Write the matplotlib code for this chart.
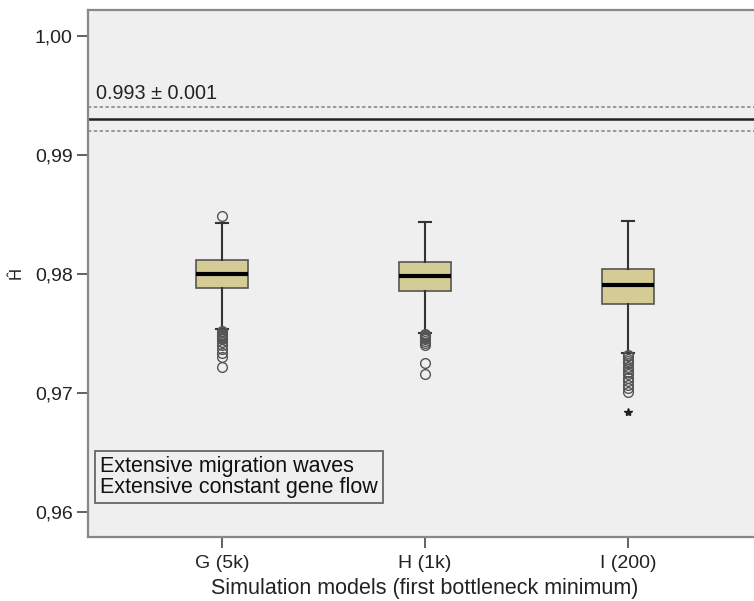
import matplotlib
matplotlib.use("Agg")
import matplotlib.pyplot as plt

plt.rcParams['font.family'] = ['Liberation Sans', 'DejaVu Sans']

# data
models = ["G (5k)", "H (1k)", "I (200)"]
medians = [0.9800, 0.97986, 0.97905]
q1 = [0.97880, 0.97857, 0.97748]
q3 = [0.98118, 0.98101, 0.98045]
whisk_lo = [0.97538, 0.97507, 0.97333]
whisk_hi = [0.98431, 0.98434, 0.98448]
outliers = [
    [0.98490, 0.9752, 0.9751, 0.9750, 0.9749, 0.9748, 0.9747, 0.9746, 0.9745,
     0.9743, 0.9740, 0.9737, 0.9734, 0.9730, 0.9722],
    [0.9750, 0.9749, 0.9748, 0.9747, 0.9746, 0.9745, 0.9744, 0.9742, 0.9740,
     0.9725, 0.9716],
    [0.9732, 0.9731, 0.9729, 0.9727, 0.9725, 0.9722, 0.9720, 0.9718, 0.9716,
     0.9713, 0.9710, 0.9707, 0.9704, 0.9701],
]
extremes = [[], [], [0.9684]]
ref_mean = 0.993
ref_sd = 0.001
y_ticks = [0.96, 0.97, 0.98, 0.99, 1.00]
y_ticklabels = ["0,96", "0,97", "0,98", "0,99", "1,00"]

fig = plt.figure(figsize=(7.54, 6.01), dpi=100)
ax = fig.add_axes([0.1167, 0.1065, 0.894, 0.877])
ax.set_facecolor("#efefef")

stats = []
for i, name in enumerate(models):
    stats.append(dict(label=name, med=medians[i], q1=q1[i], q3=q3[i],
                      whislo=whisk_lo[i], whishi=whisk_hi[i], fliers=outliers[i]))

pos = [1, 2, 3]
ax.bxp(stats, positions=pos, widths=0.256, patch_artist=True,
       showfliers=True, capwidths=0.06,
       boxprops=dict(facecolor="#d4cc94", edgecolor="#555555", linewidth=1.2),
       medianprops=dict(color="black", linewidth=3),
       whiskerprops=dict(color="#333333", linewidth=1.5),
       capprops=dict(color="#333333", linewidth=1.5),
       flierprops=dict(marker="o", markerfacecolor="none",
                       markeredgecolor="#555555", markersize=7,
                       markeredgewidth=1))

for p, ext in zip(pos, extremes):
    if ext:
        ax.plot([p] * len(ext), ext, marker="*", linestyle="none",
                color="#222222", markersize=6)

ax.axhline(ref_mean, color="#222222", linewidth=1.8)
ax.axhline(ref_mean + ref_sd, color="#888888", linewidth=1.2, linestyle=(0, (2, 1.5)))
ax.axhline(ref_mean - ref_sd, color="#888888", linewidth=1.2, linestyle=(0, (2, 1.5)))
ax.text(0.38, 0.9952, "0.993 ± 0.001", fontsize=14.3, color="#222222",
        va="center", ha="left")

ax.text(0.4, 0.96295, "Extensive migration waves\nExtensive constant gene flow",
        fontsize=15.5, color="#111111", va="center", ha="left", linespacing=0.95,
        bbox=dict(boxstyle="square,pad=0.25", facecolor="none",
                  edgecolor="#666666", linewidth=1.3))

ax.set_xlim(0.34, 3.66)
ax.set_ylim(0.9579, 1.0022)
ax.set_yticks(y_ticks)
ax.set_yticklabels(y_ticklabels)
ax.set_xticks(pos)
ax.set_xticklabels(models)
ax.tick_params(axis="both", direction="out", length=8, width=1.3,
               colors="#555555", labelcolor="#222222", labelsize=14, pad=3)
ax.tick_params(axis="x", pad=5)

for s in ax.spines.values():
    s.set_color("#888888")
    s.set_linewidth(1.6)

ax.set_xlabel("Simulation models (first bottleneck minimum)", fontsize=15.5,
              color="#222222", labelpad=4)
ax.set_ylabel("Ĥ", fontsize=12, color="#222222")
ax.yaxis.set_label_coords(-0.095, 0.5)

fig.savefig("out.png", dpi=100)
